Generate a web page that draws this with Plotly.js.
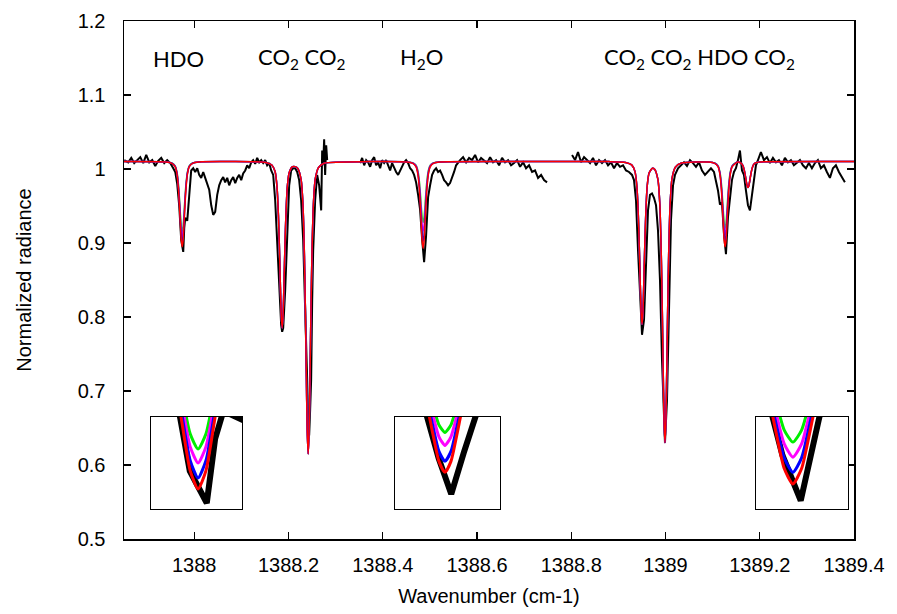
<!DOCTYPE html>
<html><head><meta charset="utf-8">
<script src="https://cdn.plot.ly/plotly-3.0.1.min.js"></script>
<style>html,body{margin:0;padding:0;background:#fff}#chart{width:897px;height:614px}</style>
</head><body><div id="chart"></div>
<script>
// ---- observed spectrum (black), null = gap in the measurement ----
const obsX = [
1387.8515,1387.8600,1387.8664,1387.8727,1387.8791,1387.8855,1387.8918,1387.8982,1387.9046,1387.9109,
1387.9173,1387.9236,1387.9300,1387.9364,1387.9427,1387.9491,1387.9555,1387.9597,1387.9639,1387.9682,
1387.9724,1387.9767,1387.9788,1387.9809,1387.9852,1387.9894,1387.9936,1387.9979,1388.0021,1388.0064,1388.0106,
1388.0148,1388.0191,1388.0233,1388.0276,1388.0318,1388.0361,1388.0403,1388.0445,1388.0488,1388.0530,
1388.0573,1388.0615,1388.0657,1388.0700,1388.0742,1388.0785,1388.0827,1388.0870,1388.0912,1388.0954,
1388.0997,1388.1039,1388.1082,1388.1124,1388.1166,1388.1209,1388.1251,1388.1294,1388.1336,1388.1379,
1388.1421,1388.1463,1388.1506,1388.1548,1388.1591,1388.1633,1388.1676,1388.1718,1388.1760,1388.1803,
1388.1845,1388.1866,1388.1888,1388.1930,1388.1972,1388.2015,1388.2057,1388.2100,1388.2142,1388.2185,
1388.2227,1388.2269,1388.2312,1388.2354,1388.2397,1388.2418,1388.2439,1388.2460,1388.2481,1388.2503,
1388.2524,1388.2566,1388.2609,1388.2651,1388.2694,1388.2715,1388.2736,1388.2757,1388.2778,1388.2800,
1388.2821,
1388.3200,
1388.3521,1388.3563,1388.3606,1388.3648,1388.3690,1388.3733,1388.3775,1388.3818,1388.3860,1388.3902,
1388.3945,1388.3987,1388.4030,1388.4072,1388.4115,1388.4157,1388.4199,1388.4242,1388.4284,1388.4327,
1388.4369,1388.4411,1388.4454,1388.4496,1388.4539,1388.4581,1388.4624,1388.4666,1388.4708,1388.4751,
1388.4793,1388.4836,1388.4878,1388.4920,1388.4963,1388.5005,1388.5048,1388.5090,1388.5133,1388.5175,
1388.5217,1388.5260,1388.5302,1388.5345,1388.5387,1388.5429,1388.5472,1388.5514,1388.5557,1388.5599,
1388.5642,1388.5705,1388.5769,1388.5832,1388.5896,1388.5960,1388.6023,1388.6087,1388.6151,1388.6214,
1388.6278,1388.6341,1388.6405,1388.6469,1388.6532,1388.6596,1388.6660,1388.6723,1388.6787,1388.6851,
1388.6914,1388.6978,1388.7041,1388.7105,1388.7169,1388.7232,1388.7296,1388.7360,1388.7423,1388.7487,
1388.7600,
1388.8017,1388.8081,1388.8144,1388.8208,1388.8272,1388.8335,1388.8399,1388.8462,1388.8526,1388.8590,
1388.8653,1388.8717,1388.8781,1388.8844,1388.8908,1388.8971,1388.9035,1388.9099,1388.9162,1388.9226,
1388.9290,1388.9332,1388.9374,1388.9417,1388.9459,1388.9502,1388.9544,1388.9586,1388.9629,1388.9671,
1388.9714,1388.9756,1388.9799,1388.9841,1388.9883,1388.9926,1388.9968,1388.9989,1389.0032,1389.0074,
1389.0117,1389.0160,1389.0202,1389.0266,1389.0329,1389.0393,1389.0456,1389.0520,1389.0584,1389.0647,
1389.0711,1389.0775,1389.0838,1389.0902,1389.0965,1389.1029,1389.1071,1389.1114,1389.1156,1389.1198,
1389.1241,1389.1283,1389.1326,1389.1368,1389.1410,1389.1453,1389.1495,1389.1538,1389.1580,1389.1623,
1389.1665,1389.1707,1389.1750,1389.1792,1389.1835,1389.1877,1389.1919,1389.1962,1389.2025,1389.2089,
1389.2153,1389.2216,1389.2280,1389.2344,1389.2407,1389.2471,1389.2534,1389.2598,1389.2662,1389.2725,
1389.2789,1389.2853,1389.2916,1389.2980,1389.3043,1389.3107,1389.3171,1389.3234,1389.3298,1389.3362,
1389.3425,1389.3489,1389.3553,1389.3616,1389.3680,1389.3744,1389.3807
];
const obsY = [
1.012,1.009,1.015,1.008,1.012,1.016,1.008,1.019,1.009,1.012,
1.004,1.011,1.015,1.008,1.012,1.008,1.001,0.996,0.980,0.950,
0.904,0.888,0.920,0.934,0.930,0.971,0.998,1.001,0.996,1.001,0.992,
0.988,0.996,0.988,0.981,0.972,0.951,0.938,0.942,0.965,0.978,
0.985,0.989,0.982,0.988,0.978,0.985,0.989,0.981,0.988,0.992,
0.985,0.994,0.998,1.005,1.001,1.009,1.012,1.007,1.015,1.009,
1.012,1.008,1.012,1.005,1.008,0.998,0.992,0.958,0.904,0.836,
0.789,0.780,0.785,0.836,0.917,0.978,0.998,1.001,1.001,0.996,
0.985,0.958,0.904,0.823,0.715,0.661,0.640,0.675,0.715,0.823,
0.890,0.958,0.992,0.978,0.944,1.025,1.005,1.040,0.992,1.032,
1.012,
null,
1.008,1.015,1.005,1.012,1.009,1.003,1.012,1.016,1.005,1.009,
1.001,1.012,1.008,1.012,1.005,0.998,1.008,1.001,0.996,0.992,
0.998,1.005,1.009,1.012,1.008,1.001,0.998,0.992,0.982,0.965,
0.945,0.905,0.874,0.910,0.962,0.978,0.992,0.998,1.001,0.996,
0.998,0.992,0.985,0.982,0.978,0.981,0.988,0.996,1.005,1.009,
1.012,1.016,1.009,1.015,1.012,1.019,1.009,1.015,1.012,1.008,
1.016,1.009,1.012,1.005,1.015,1.009,1.012,1.005,1.008,1.012,
1.003,1.009,1.001,1.005,0.996,0.998,0.988,0.992,0.985,0.982,
null,
1.019,1.012,1.023,1.009,1.016,1.012,1.008,1.015,1.005,1.012,
1.008,1.012,1.005,1.009,1.001,1.008,1.003,1.005,0.998,0.996,
0.992,0.985,0.958,0.890,0.823,0.776,0.796,0.877,0.944,0.965,
0.967,0.961,0.951,0.917,0.850,0.742,0.661,0.630,0.688,0.823,
0.931,0.978,0.992,1.001,1.005,1.009,1.004,1.012,1.008,1.003,
1.009,0.998,0.992,0.996,1.001,0.996,0.985,0.971,0.952,0.955,
0.912,0.885,0.935,0.965,0.985,0.996,1.001,1.012,1.025,0.998,
0.992,0.971,0.951,0.944,0.965,0.992,1.005,1.012,1.023,1.012,
1.016,1.008,1.015,1.009,1.012,1.005,1.015,1.009,1.012,1.005,
1.009,1.012,1.005,1.001,1.008,1.001,1.008,1.012,1.001,1.005,
0.996,0.988,1.001,1.005,0.996,0.988,0.982
];

// ---- model spectra (shared wavenumber grid) ----
const modelX = [
1387.85,
1387.9395,1387.9525,1387.9595,1387.9635,1387.9665,1387.9685,1387.9705,1387.9725,1387.9745,1387.9765,1387.9785,1387.9805,1387.9825,1387.9855,1387.9895,1387.9965,1388.0095,
1388.08,
1388.1516,1388.1646,1388.1716,1388.1756,1388.1786,1388.1806,1388.1826,1388.1846,1388.1866,1388.1886,1388.1906,1388.1926,1388.1946,1388.1976,1388.2016,1388.2086,
1388.2142,
1388.2198,1388.2268,1388.2308,1388.2338,1388.2358,1388.2378,1388.2398,1388.2418,1388.2438,1388.2458,1388.2478,1388.2498,1388.2528,1388.2568,1388.2638,1388.2768,
1388.37,
1388.4507,1388.4637,1388.4707,1388.4747,1388.4777,1388.4797,1388.4817,1388.4837,1388.4857,1388.4877,1388.4897,1388.4917,1388.4937,1388.4967,1388.5007,1388.5077,1388.5207,
1388.70,1388.88,
1388.9152,1388.9282,1388.9352,1388.9392,1388.9422,1388.9442,1388.9462,1388.9482,1388.9502,1388.9522,1388.9542,1388.9562,1388.9582,1388.9612,1388.9652,1388.9722,
1388.9769,1388.9839,1388.9879,1388.9909,1388.9929,1388.9949,1388.9969,1388.9989,1389.0009,1389.0029,1389.0049,1389.0069,1389.0099,1389.0139,1389.0209,1389.0339,
1389.0915,1389.1045,1389.1115,1389.1155,1389.1185,1389.1205,1389.1225,1389.1245,1389.1265,1389.1285,1389.1305,1389.1325,1389.1345,1389.1375,1389.1415,1389.1485,
1389.153,1389.16,1389.164,1389.167,1389.169,1389.171,1389.173,1389.175,1389.177,1389.179,1389.181,1389.183,1389.186,1389.19,1389.197,1389.21,
1389.40
];
const continuum = 1.01;
// CO2 lines (identical in all model runs)
const co2abY = [1.0089,1.0055,0.9965,0.9762,0.938,0.8975,0.848,0.803,0.785,0.803,0.848,0.8975,0.938,0.9762,0.9953,1.0031,
  1.0032,
  1.0007,0.9856,0.9507,0.8836,0.8125,0.7256,0.6466,0.615,0.6466,0.7256,0.8125,0.8836,0.9507,0.9863,1.0021,1.008];
const co2cdY = [1.0089,1.0056,0.9968,0.977,0.9396,0.9,0.8516,0.8076,0.79,0.8076,0.8516,0.9,0.9396,0.977,0.9945,1.001,
  0.9998,0.9859,0.953,0.8884,0.82,0.7364,0.6604,0.63,0.6604,0.7364,0.82,0.8884,0.953,0.9872,1.0024,1.0081];
const co2eY = [1.0093,1.0079,1.0048,0.9988,0.9925,0.9848,0.9778,0.975,0.9778,0.9848,0.9925,0.9988,1.0048,1.0079,1.0093,1.0098];
// HDO line near 1387.97 for the four model runs
const hdo1Red     = [1.0094,1.0077,1.0031,0.9927,0.9732,0.9525,0.9272,0.9042,0.895,0.9042,0.9272,0.9525,0.9732,0.9927,1.0031,1.0077,1.0094];
const hdo1Blue    = [1.0095,1.0078,1.0034,0.9936,0.975,0.9553,0.9312,0.9093,0.9005,0.9093,0.9312,0.9553,0.975,0.9936,1.0034,1.0078,1.0095];
const hdo1Magenta = [1.0095,1.008,1.0039,0.9947,0.9774,0.959,0.9366,0.9162,0.908,0.9162,0.9366,0.959,0.9774,0.9947,1.0039,1.008,1.0095];
const hdo1Green   = [1.0095,1.0081,1.0043,0.9958,0.9796,0.9625,0.9416,0.9226,0.915,0.9226,0.9416,0.9625,0.9796,0.9958,1.0043,1.0081,1.0095];
// H2O line near 1388.49
const h2oRed     = [1.0094,1.0077,1.003,0.9925,0.9726,0.9515,0.9258,0.9024,0.893,0.9024,0.9258,0.9515,0.9726,0.9925,1.003,1.0077,1.0094];
const h2oBlue    = [1.0095,1.0079,1.0036,0.9939,0.9756,0.9563,0.9326,0.9111,0.9025,0.9111,0.9326,0.9563,0.9756,0.9939,1.0036,1.0079,1.0095];
const h2oMagenta = [1.0095,1.0081,1.0044,0.9959,0.98,0.9632,0.9425,0.9238,0.9163,0.9238,0.9425,0.9632,0.98,0.9959,1.0044,1.0081,1.0095];
const h2oGreen   = [1.0096,1.0084,1.0051,0.9976,0.9836,0.9688,0.9507,0.9342,0.9276,0.9342,0.9507,0.9688,0.9836,0.9976,1.0051,1.0084,1.0096];
// HDO line near 1389.13
const hdo2Red     = [1.0094,1.0077,1.0031,0.9927,0.9732,0.9525,0.9272,0.9042,0.895,0.9042,0.9272,0.9525,0.9732,0.9927,1.0031,1.0077];
const hdo2Blue    = [1.0095,1.0078,1.0035,0.9938,0.9754,0.956,0.9322,0.9106,0.902,0.9106,0.9322,0.956,0.9754,0.9938,1.0035,1.0078];
const hdo2Magenta = [1.0095,1.008,1.0041,0.9952,0.9783,0.9605,0.9387,0.9189,0.911,0.9189,0.9387,0.9605,0.9783,0.9952,1.0041,1.008];
const hdo2Green   = [1.0096,1.0082,1.0046,0.9965,0.9812,0.965,0.9452,0.9272,0.92,0.9272,0.9452,0.965,0.9812,0.9965,1.0046,1.0082];

// axis ticks
const xTickVals = [1388, 1388.2, 1388.4, 1388.6, 1388.8, 1389, 1389.2, 1389.4];
const xTickText = ['1388', '1388.2', '1388.4', '1388.6', '1388.8', '1389', '1389.2', '1389.4'];
const yTickVals = [0.5, 0.6, 0.7, 0.8, 0.9, 1, 1.1, 1.2];
const yTickText = ['0.5', '0.6', '0.7', '0.8', '0.9', '1', '1.1', '1.2'];

// species labels
const labelText = ['HDO', 'CO<sub>2</sub> CO<sub>2</sub>', 'H<sub>2</sub>O', 'CO<sub>2</sub> CO<sub>2</sub> HDO CO<sub>2</sub>'];
const labelX = [1387.966, 1388.2291, 1388.4825, 1389.0732];
const labelY = [1.15, 1.15, 1.15, 1.15];

function model(hdo1, h2o, hdo2) {
  return [continuum].concat(hdo1, [continuum], co2abY, [continuum], h2o, [continuum, continuum], co2cdY, hdo2, co2eY, [continuum]);
}
const models = [
  {name: 'green',   color: '#00ee00', y: model(hdo1Green, h2oGreen, hdo2Green)},
  {name: 'magenta', color: '#ff00ff', y: model(hdo1Magenta, h2oMagenta, hdo2Magenta)},
  {name: 'blue',    color: '#0000ff', y: model(hdo1Blue, h2oBlue, hdo2Blue)},
  {name: 'red',     color: '#ff0000', y: model(hdo1Red, h2oRed, hdo2Red)}
];

const traces = [];
const panels = [
  {xa: 'x', ya: 'y', lw: 1.5, bw: 2},
  {xa: 'x2', ya: 'y2', lw: 3, bw: 6},
  {xa: 'x3', ya: 'y3', lw: 3, bw: 6},
  {xa: 'x4', ya: 'y4', lw: 3, bw: 6}
];
panels.forEach(p => {
  traces.push({x: obsX, y: obsY, xaxis: p.xa, yaxis: p.ya, type: 'scatter', mode: 'lines',
    line: {color: '#000', width: p.bw}, connectgaps: false, showlegend: false, hoverinfo: 'skip'});
  models.forEach(m => traces.push({x: modelX, y: m.y, xaxis: p.xa, yaxis: p.ya, type: 'scatter', mode: 'lines',
    line: {color: m.color, width: p.lw, shape: 'spline', smoothing: 0.6}, showlegend: false, hoverinfo: 'skip'}));
});

const tickFont = {family: 'Liberation Sans, Arial, sans-serif', size: 20, color: '#000'};
function insetAxes(xdom, ydom, xr, yr, n) {
  const common = {showline: true, mirror: true, linecolor: '#000', linewidth: 1.2, showgrid: false,
    zeroline: false, showticklabels: false, ticks: '', fixedrange: true};
  return [
    Object.assign({domain: xdom, range: xr, anchor: 'y' + n}, common),
    Object.assign({domain: ydom, range: yr, anchor: 'x' + n}, common)
  ];
}
const yDom = [0.0579, 0.2355];
const [x2, y2] = insetAxes([0.037, 0.1616], yDom, [1387.9626, 1387.9856], [0.885, 0.931], 2);
const [x3, y3] = insetAxes([0.3712, 0.5151], yDom, [1388.4690, 1388.5041], [0.861, 0.941], 3);
const [x4, y4] = insetAxes([0.8658, 0.9918], yDom, [1389.1180, 1389.1392], [0.880, 0.935], 4);

const layout = {
  width: 897, height: 614,
  margin: {l: 124, r: 43, t: 21, b: 75},
  paper_bgcolor: '#fff', plot_bgcolor: '#fff',
  font: tickFont,
  xaxis: {range: [1387.851, 1389.4], tickmode: 'array', tickvals: xTickVals, ticktext: xTickText,
    ticks: 'inside', ticklen: 7,
    tickwidth: 1.2, tickcolor: '#000', showline: true, mirror: 'ticks', linecolor: '#000', linewidth: 1.5,
    showgrid: false, zeroline: false, tickfont: tickFont, ticklabelstandoff: 7,
    title: {text: 'Wavenumber (cm-1)', font: {family: 'Liberation Sans, Arial, sans-serif', size: 20, color: '#000'}, standoff: 14}},
  yaxis: {range: [0.5, 1.2], tickmode: 'array', tickvals: yTickVals, ticktext: yTickText,
    ticks: 'inside', ticklen: 7,
    tickwidth: 1.2, tickcolor: '#000', showline: true, mirror: 'ticks', linecolor: '#000', linewidth: 1.5,
    showgrid: false, zeroline: false, tickfont: tickFont, ticklabelstandoff: 13,
    title: {text: 'Normalized radiance', font: {family: 'Liberation Sans, Arial, sans-serif', size: 20, color: '#000'}, standoff: 40}},
  xaxis2: x2, yaxis2: y2, xaxis3: x3, yaxis3: y3, xaxis4: x4, yaxis4: y4,
  annotations: labelText.map((t, i) => ({text: t, x: labelX[i], y: labelY[i], xref: 'x', yref: 'y',
    showarrow: false, xanchor: 'center', yanchor: 'middle',
    font: {family: 'Lato, Open Sans, sans-serif', size: 22, color: '#000'}})),
  showlegend: false
};

Plotly.newPlot('chart', traces, layout, {staticPlot: true, displayModeBar: false});
</script>
</body></html>
